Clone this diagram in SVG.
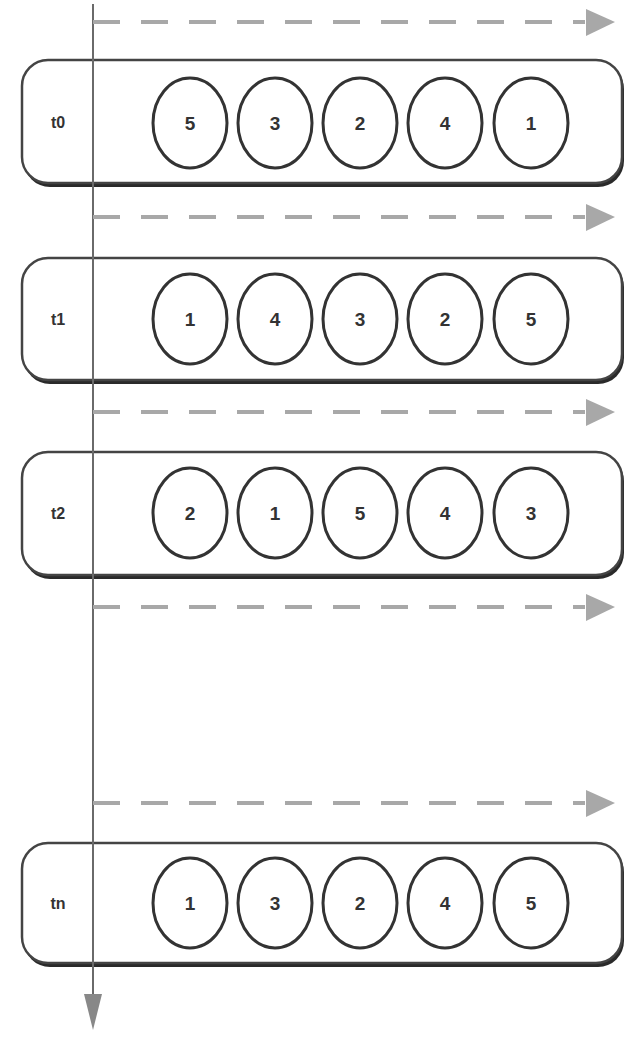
<svg xmlns="http://www.w3.org/2000/svg" width="634" height="1041" viewBox="0 0 634 1041">
<defs>
<style>
.shadow{fill:#2a2a2a;}
.box{fill:#fff;stroke:#444;stroke-width:2.5;}
.slot{fill:#fff;stroke:#333;stroke-width:3;}
.lbl{font-family:"Liberation Sans",Arial,sans-serif;font-weight:bold;font-size:16px;fill:#333;text-anchor:middle;dominant-baseline:central;}
.num{font-family:"Liberation Sans",Arial,sans-serif;font-weight:bold;font-size:19px;fill:#333;text-anchor:middle;dominant-baseline:central;}
.dash{stroke:#a8a8a8;stroke-width:4;stroke-dasharray:27 21;fill:none;}
.axis{stroke:#6a6a6a;stroke-width:2;fill:none;}
.head{fill:#a8a8a8;}
</style>
</defs>
<g id="row-t0">
<rect class="shadow" x="24" y="63" width="600" height="124" rx="26"/>
<rect class="box" x="22" y="60" width="600" height="123" rx="26"/>
<text class="lbl" x="58" y="122">t0</text>
<ellipse class="slot" cx="190" cy="123" rx="37" ry="45"/><text class="num" x="190" y="123">5</text>
<ellipse class="slot" cx="275" cy="123" rx="37" ry="45"/><text class="num" x="275" y="123">3</text>
<ellipse class="slot" cx="360" cy="123" rx="37" ry="45"/><text class="num" x="360" y="123">2</text>
<ellipse class="slot" cx="445" cy="123" rx="37" ry="45"/><text class="num" x="445" y="123">4</text>
<ellipse class="slot" cx="531" cy="123" rx="37" ry="45"/><text class="num" x="531" y="123">1</text>
</g>
<g id="row-t1">
<rect class="shadow" x="24" y="261" width="600" height="123" rx="26"/>
<rect class="box" x="22" y="258" width="600" height="122" rx="26"/>
<text class="lbl" x="58" y="319">t1</text>
<ellipse class="slot" cx="190" cy="319" rx="37" ry="45"/><text class="num" x="190" y="319">1</text>
<ellipse class="slot" cx="275" cy="319" rx="37" ry="45"/><text class="num" x="275" y="319">4</text>
<ellipse class="slot" cx="360" cy="319" rx="37" ry="45"/><text class="num" x="360" y="319">3</text>
<ellipse class="slot" cx="445" cy="319" rx="37" ry="45"/><text class="num" x="445" y="319">2</text>
<ellipse class="slot" cx="531" cy="319" rx="37" ry="45"/><text class="num" x="531" y="319">5</text>
</g>
<g id="row-t2">
<rect class="shadow" x="24" y="455" width="600" height="124" rx="26"/>
<rect class="box" x="22" y="452" width="600" height="123" rx="26"/>
<text class="lbl" x="58" y="513">t2</text>
<ellipse class="slot" cx="190" cy="513" rx="37" ry="45"/><text class="num" x="190" y="513">2</text>
<ellipse class="slot" cx="275" cy="513" rx="37" ry="45"/><text class="num" x="275" y="513">1</text>
<ellipse class="slot" cx="360" cy="513" rx="37" ry="45"/><text class="num" x="360" y="513">5</text>
<ellipse class="slot" cx="445" cy="513" rx="37" ry="45"/><text class="num" x="445" y="513">4</text>
<ellipse class="slot" cx="531" cy="513" rx="37" ry="45"/><text class="num" x="531" y="513">3</text>
</g>
<g id="row-tn">
<rect class="shadow" x="24" y="846" width="600" height="121" rx="26"/>
<rect class="box" x="22" y="843" width="600" height="120" rx="26"/>
<text class="lbl" x="58" y="903">tn</text>
<ellipse class="slot" cx="190" cy="903" rx="37" ry="45"/><text class="num" x="190" y="903">1</text>
<ellipse class="slot" cx="275" cy="903" rx="37" ry="45"/><text class="num" x="275" y="903">3</text>
<ellipse class="slot" cx="360" cy="903" rx="37" ry="45"/><text class="num" x="360" y="903">2</text>
<ellipse class="slot" cx="445" cy="903" rx="37" ry="45"/><text class="num" x="445" y="903">4</text>
<ellipse class="slot" cx="531" cy="903" rx="37" ry="45"/><text class="num" x="531" y="903">5</text>
</g>
<g id="connectors">
<line class="axis" x1="93" y1="4" x2="93" y2="996"/>
<path d="M84,994 L102,994 L93,1030 Z" fill="#888"/>
<line class="dash" x1="93" y1="22" x2="585" y2="22"/>
<path class="head" d="M586,9 L615,22 L586,36 Z"/>
<line class="dash" x1="93" y1="217" x2="585" y2="217"/>
<path class="head" d="M586,204 L615,217 L586,231 Z"/>
<line class="dash" x1="93" y1="412" x2="585" y2="412"/>
<path class="head" d="M586,399 L615,412 L586,426 Z"/>
<line class="dash" x1="93" y1="607" x2="585" y2="607"/>
<path class="head" d="M586,594 L615,607 L586,621 Z"/>
<line class="dash" x1="93" y1="803" x2="585" y2="803"/>
<path class="head" d="M586,790 L615,803 L586,817 Z"/>
</g>
</svg>
